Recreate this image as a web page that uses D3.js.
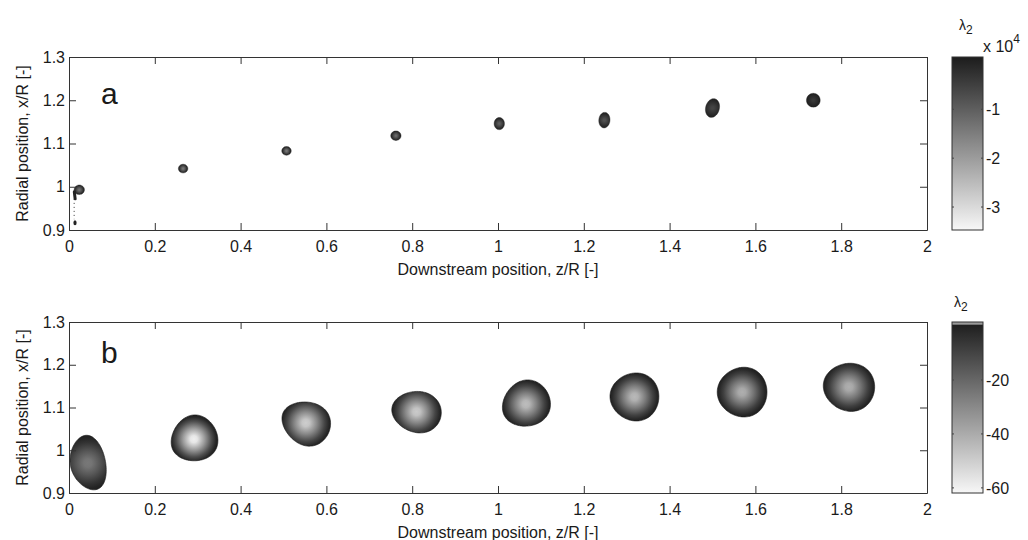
<!DOCTYPE html>
<html><head><meta charset="utf-8">
<script src="https://cdn.jsdelivr.net/npm/d3@7"></script>
<style>
body{margin:0;background:#fff}
text{font-family:"Liberation Sans",Arial,Helvetica,sans-serif;fill:#1a1a1a}
</style>
</head><body>
<svg id="chart" width="1028" height="540"></svg>
<script>
// ---------- data ----------
const xTickValues = [0,0.2,0.4,0.6,0.8,1,1.2,1.4,1.6,1.8,2];
const yTickValues = [0.9,1,1.1,1.2,1.3];
const xDomain = [0,2];
const yDomain = [0.9,1.3];
const cbTicksA = [-1,-2,-3];          // x 10^4
const cbTicksB = [-20,-40,-60];
const cbDomainA = [-3.47,0.07];
const cbDomainB = [-61.9,1.5];

// panel a : vortex cores (z/R, x/R, half extents in z/R and x/R, tilt, core lambda2 x10^4)
const aZ     = [0.024,0.266,0.507,0.762,1.003,1.248,1.500,1.735];
const aX     = [0.993,1.042,1.083,1.118,1.146,1.154,1.182,1.200];
const aHalfZ = [0.012,0.011,0.011,0.012,0.012,0.013,0.016,0.016];
const aHalfX = [0.011,0.010,0.010,0.011,0.014,0.018,0.022,0.016];
const aTilt  = [0,0,0,0,0,5,15,0];
const aCore  = [-1.3,-1.4,-1.4,-1.2,-1.0,-0.8,-0.6,-0.4];
// panel a : trailing filament of first core
const tailZ = [0.012,0.012];
const tailX = [0.972,0.925];
const tailDotZ = 0.014, tailDotX = 0.917;

// panel b : vortex cores
const bZ     = [0.044,0.291,0.552,0.810,1.065,1.318,1.569,1.818];
const bX     = [0.970,1.026,1.064,1.090,1.108,1.125,1.136,1.148];
const bHalfZ = [0.041,0.055,0.058,0.058,0.057,0.057,0.058,0.060];
const bHalfX = [0.064,0.053,0.050,0.048,0.053,0.056,0.058,0.056];
const bTilt  = [-12,-30,25,10,-30,5,0,10];
const bEgg   = [0.15,0.15,0.15,0.10,0.12,0.08,0.08,0.08];
const bCore  = [-25,-60,-50,-49,-45,-44,-41,-41];

// ---------- layout ----------
const svg = d3.select("#chart");
const defs = svg.append("defs");
const plotL = 69, plotR = 927, cbL = 952, cbR = 983;
const panels = [
  {top:57, bottom:230, letter:"a", cbDomain:cbDomainA, cbTicks:cbTicksA,
   Z:aZ, X:aX, HZ:aHalfZ, HX:aHalfX, T:aTilt, E:aZ.map(()=>0), C:aCore, small:true},
  {top:322, bottom:493, letter:"b", cbDomain:cbDomainB, cbTicks:cbTicksB,
   Z:bZ, X:bX, HZ:bHalfZ, HX:bHalfX, T:bTilt, E:bEgg, C:bCore, small:false}
];
const fmt = d => String(+d.toFixed(1));

panels.forEach((p, pi) => {
  const x = d3.scaleLinear().domain(xDomain).range([plotL, plotR]);
  const y = d3.scaleLinear().domain(yDomain).range([p.bottom, p.top]);
  const color = d3.scaleLinear().domain(p.cbDomain).range(["#f7f7f7","#1c1c1c"]);
  const g = svg.append("g");

  // cores
  const line = d3.line().curve(d3.curveCardinalClosed.tension(0.2));
  p.Z.forEach((z, i) => {
    const cx = x(z), cy = y(p.X[i]);
    const a = x(z + p.HZ[i]) - x(z);
    const b = y(p.X[i]) - y(p.X[i] + p.HX[i]);
    const th = p.T[i] * Math.PI / 180, e = p.E[i];
    const pts = d3.range(48).map(k => {
      const t = k / 48 * 2 * Math.PI;
      const lx = a * Math.cos(t), ly = b * Math.sin(t) * (1 + e * Math.cos(t));
      return [cx + lx*Math.cos(th) - ly*Math.sin(th), cy + lx*Math.sin(th) + ly*Math.cos(th)];
    });
    const gid = `grad${pi}_${i}`;
    const r = Math.max(a, b);
    const grad = defs.append("radialGradient").attr("id", gid)
      .attr("gradientUnits","userSpaceOnUse")
      .attr("cx", cx).attr("cy", cy).attr("r", r*1.0)
      .attr("fx", cx).attr("fy", cy);
    const cc = color(p.C[i]);
    const edge = color(p.cbDomain[1] - 0.02*(p.cbDomain[1]-p.cbDomain[0]));
    const mix = d3.interpolateRgb(cc, edge);
    [[0,0],[0.15,0.05],[0.45,0.4],[0.75,0.78],[0.92,0.95],[1,1]].forEach(([o,m]) =>
      grad.append("stop").attr("offset", o).attr("stop-color", mix(m)));
    g.append("path").attr("d", line(pts)).attr("fill", `url(#${gid})`)
      .attr("stroke", p.small ? "#222" : "#1a1a1a").attr("stroke-width", p.small ? 0.4 : 0.6);
  });

  if (p.small) {
    // trailing filament of the first core
    g.append("path")
      .attr("d", d3.line()([[x(aZ[0]) - 5, y(aX[0]) + 2],[x(tailZ[0]) + 1, y(tailX[0])]]))
      .attr("stroke", "#222").attr("stroke-width", 3).attr("stroke-linecap","round");
    g.append("line")
      .attr("x1", x(tailZ[0])).attr("y1", y(tailX[0]))
      .attr("x2", x(tailZ[1])).attr("y2", y(tailX[1]))
      .attr("stroke", "#333").attr("stroke-width", 1).attr("stroke-dasharray","1,3");
    g.append("ellipse").attr("cx", x(tailDotZ)).attr("cy", y(tailDotX))
      .attr("rx", 1.6).attr("ry", 2.5).attr("fill", "#222");
  }

  // axes
  const axB = d3.axisBottom(x).tickValues(xTickValues).tickFormat(fmt).tickSizeInner(-7).tickSizeOuter(0).tickPadding(11);
  const axT = d3.axisTop(x).tickValues(xTickValues).tickFormat("").tickSizeInner(-7).tickSizeOuter(0);
  const axL = d3.axisLeft(y).tickValues(yTickValues).tickFormat(fmt).tickSizeInner(-7).tickSizeOuter(0).tickPadding(4);
  const axR = d3.axisRight(y).tickValues(yTickValues).tickFormat("").tickSizeInner(-7).tickSizeOuter(0);
  const style = sel => {
    sel.selectAll(".domain").attr("stroke","#333");
    sel.selectAll(".tick line").attr("stroke","#333");
    sel.selectAll(".tick text").attr("font-size", 16).attr("fill","#1a1a1a")
      .attr("font-family",'"Liberation Sans",Arial,sans-serif');
  };
  svg.append("g").attr("transform",`translate(0,${p.bottom})`).call(axB).call(style);
  svg.append("g").attr("transform",`translate(0,${p.top})`).call(axT).call(style);
  svg.append("g").attr("transform",`translate(${plotL},0)`).call(axL).call(style);
  svg.append("g").attr("transform",`translate(${plotR},0)`).call(axR).call(style);

  // titles
  svg.append("text").attr("x", (plotL+plotR)/2).attr("y", p.bottom + 45)
    .attr("text-anchor","middle").attr("font-size",16).text("Downstream position, z/R [-]");
  svg.append("text").attr("transform",`translate(28,${(p.top+p.bottom)/2}) rotate(-90)`)
    .attr("text-anchor","middle").attr("font-size",16).text("Radial position, x/R [-]");
  svg.append("text").attr("x", 101).attr("y", p.top + (pi===0 ? 47 : 41))
    .attr("font-size", 30).text(p.letter);

  // colorbar
  const cy = d3.scaleLinear().domain(p.cbDomain).range([p.bottom, p.top]);
  const lg = defs.append("linearGradient").attr("id", `cb${pi}`)
    .attr("x1",0).attr("y1",1).attr("x2",0).attr("y2",0);
  d3.range(0, 1.0001, 0.1).forEach(t => {
    const v = p.cbDomain[0] + t*(p.cbDomain[1]-p.cbDomain[0]);
    lg.append("stop").attr("offset", t).attr("stop-color", color(v));
  });
  svg.append("rect").attr("x", cbL).attr("y", p.top).attr("width", cbR-cbL)
    .attr("height", p.bottom-p.top).attr("fill", `url(#cb${pi})`);
  if (!p.small) {
    svg.append("rect").attr("x", cbL).attr("y", cy(p.cbDomain[1]))
      .attr("width", cbR-cbL).attr("height", cy(p.cbDomain[1]-1) - cy(p.cbDomain[1]))
      .attr("fill","#9a9a9a");
  }
  svg.append("rect").attr("x", cbL).attr("y", p.top).attr("width", cbR-cbL)
    .attr("height", p.bottom-p.top).attr("fill","none").attr("stroke","#333");
  const cax = d3.axisRight(cy).tickValues(p.cbTicks).tickFormat(d => "-" + Math.abs(d))
    .tickSizeInner(0).tickSizeOuter(0).tickPadding(3);
  const cg = svg.append("g").attr("transform",`translate(${cbR},0)`).call(cax).call(style);
  cg.select(".domain").remove();
  p.cbTicks.forEach(v => {
    svg.append("line").attr("x1",cbL).attr("x2",cbL+2).attr("y1",cy(v)).attr("y2",cy(v)).attr("stroke","#444");
    svg.append("line").attr("x1",cbR-2).attr("x2",cbR).attr("y1",cy(v)).attr("y2",cy(v)).attr("stroke","#444");
  });

  // lambda_2 label
  const lx = pi===0 ? 959 : 954, ly = pi===0 ? 30 : 307;
  const lt = svg.append("text").attr("x", lx).attr("y", ly).attr("font-size", 14);
  lt.append("tspan").text("λ");
  lt.append("tspan").attr("dy", 4).attr("font-size", 12).text("2");
  if (pi===0) {
    const et = svg.append("text").attr("x", 983).attr("y", 52).attr("font-size", 16);
    et.append("tspan").text("x 10");
    et.append("tspan").attr("dy", -9).attr("font-size", 12).text("4");
  }
});
</script>
</body></html>
